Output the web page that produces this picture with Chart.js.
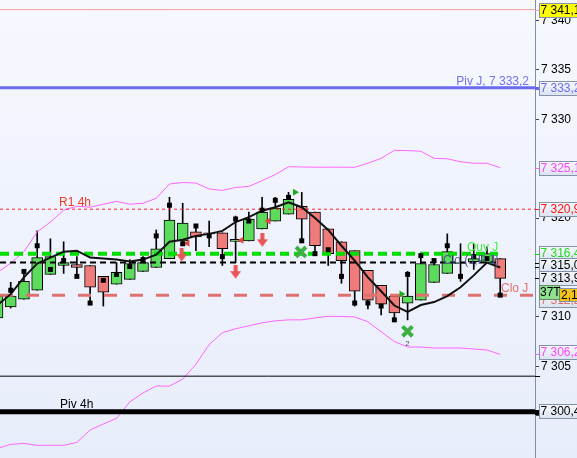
<!DOCTYPE html>
<html>
<head>
<meta charset="utf-8">
<script src="https://cdn.jsdelivr.net/npm/chart.js@4.4.1/dist/chart.umd.min.js"></script>
<style>
  html, body { margin: 0; padding: 0; background: #f3f6fd; }
  canvas { display: block; }
</style>
</head>
<body>
<canvas id="chart" width="577" height="458"></canvas>
<script>
// --- candle data (index = bar number) ---
const opens  = [7309.9, 7311.0, 7311.8, 7312.7, 7314.3, 7315.2, 7315.3, 7315.2, 7314.1, 7313.3,
                7313.8, 7314.6, 7315.0, 7315.9, 7317.7, 7318.6, 7318.5, 7318.5, 7317.65, 7317.7,
                7318.9, 7319.7, 7320.4, 7321.2, 7320.6, 7318.9, 7317.6, 7316.7, 7314.7, 7313.2,
                7312.1, 7311.4, 7311.7, 7313.5, 7314.4, 7315.4, 7315.6, 7315.5, 7315.9];
const closes = [7312.1, 7312.1, 7313.6, 7316.0, 7316.1, 7315.5, 7315.0, 7313.0, 7312.5, 7314.5,
                7315.4, 7315.5, 7316.9, 7319.8, 7319.5, 7318.1, 7318.4, 7316.9, 7317.85, 7319.9,
                7320.6, 7321.0, 7321.9, 7319.9, 7317.2, 7316.4, 7315.7, 7312.6, 7311.7, 7311.3,
                7310.4, 7312.1, 7315.4, 7315.3, 7316.6, 7315.5, 7315.9, 7316.4, 7313.9];
const highs  = [7312.6, 7313.5, 7314.6, 7318.7, 7317.9, 7317.6, 7316.1, 7315.2, 7314.1, 7315.5,
                7315.8, 7316.1, 7318.8, 7322.1, 7321.5, 7319.2, 7319.7, 7318.5, 7320.2, 7320.6,
                7322.1, 7322.1, 7322.6, 7322.6, 7320.6, 7318.9, 7317.6, 7316.7, 7314.7, 7313.2,
                7312.1, 7314.6, 7316.2, 7315.8, 7318.4, 7317.4, 7317.4, 7317.1, 7315.9];
const lows   = [7309.4, 7310.9, 7311.8, 7312.7, 7314.3, 7314.4, 7314.1, 7311.4, 7311.1, 7313.3,
                7313.8, 7314.6, 7315.0, 7315.9, 7317.4, 7316.7, 7317.1, 7315.2, 7315.5, 7317.7,
                7318.9, 7319.7, 7320.4, 7317.5, 7316.4, 7315.2, 7313.4, 7311.1, 7310.8, 7310.2,
                7309.7, 7309.7, 7311.7, 7313.5, 7314.4, 7313.6, 7314.8, 7315.5, 7312.2];
const squares = [null, 7312.7, 7314.6, 7317.2, 7314.8, 7315.7, 7314.1, 7311.4, 7313.7, 7314.3,
                7315.1, 7315.8, 7318.2, 7321.3, 7317.4, 7319.2, 7318.2, 7316.1, 7319.9, 7319.7,
                7320.8, 7321.8, 7322.1, 7317.7, 7316.4, 7316.8, 7314.1, 7311.4, 7311.4, 7311.1,
                7309.7, 7314.3, 7316.2, 7315.7, 7317.2, 7314.1, 7316.1, 7315.9, 7312.2];

// moving average and bollinger bands
const movAvg = [7311.2, 7312.3, 7314.0, 7315.4, 7316.0, 7316.6, 7316.7, 7316.0, 7315.9, 7315.8,
                7315.6, 7315.8, 7316.3, 7317.6, 7317.8, 7318.2, 7318.4, 7318.7, 7319.6, 7320.1,
                7320.75, 7321.1, 7321.6, 7321.1, 7320.0, 7318.8, 7317.2, 7315.7, 7314.0, 7312.6,
                7311.15, 7310.5, 7311.2, 7311.5, 7312.1, 7313.0, 7314.2, 7315.5, 7315.0];
const bbUpper = [7314.5, 7315.45, 7316.6, 7318.6, 7319.6, 7320.8, 7321.2, 7321.1, 7321.4, 7321.7,
                7321.4, 7321.5, 7322.0, 7323.45, 7323.6, 7323.55, 7322.95, 7322.8, 7323.1, 7323.2,
                7323.8, 7324.4, 7325.2, 7325.17, 7325.15, 7325.15, 7325.15, 7325.14, 7325.55, 7326.05,
                7326.86, 7326.83, 7326.76, 7326.05, 7326.0, 7325.7, 7325.55, 7325.55, 7325.1];
const bbLower = [7296.7, 7297.1, 7297.2, 7297.0, 7297.0, 7297.0, 7297.3, 7298.55, 7299.16, 7299.74,
                7301.4, 7302.3, 7303.0, 7303.0, 7303.7, 7305.2, 7307.2, 7308.4, 7308.8, 7309.1,
                7309.4, 7309.6, 7309.7, 7309.7, 7309.9, 7310.06, 7310.04, 7310.0, 7309.5, 7308.5,
                7307.5, 7306.95, 7306.95, 7306.85, 7306.85, 7306.85, 7306.75, 7306.65, 7306.2];

// signal markers (x = bar index)
const sellArrows = [{ x: 13.92, y: 7316.26 }, { x: 18.0, y: 7314.53 }, { x: 20.02, y: 7317.75 }];
const leftTris   = [{ x: 14.36, y: 7317.45 }, { x: 18.44, y: 7317.76 }, { x: 20.48, y: 7319.7 }];
const rightTris  = [{ x: 22.49, y: 7322.61 }, { x: 30.54, y: 7312.32 }];
const crosses    = [{ x: 22.94, y: 7316.57 }, { x: 30.99, y: 7308.54 }];

// horizontal levels
const lvlTop = 7341.1, pivJ = 7333.2, r1h4 = 7320.9, ouvJ = 7316.4, cloJP = 7315.5,
      cloJ = 7312.2, s4h = 7304.0, piv4h = 7300.4;

// price labels on the axis
const mavLast = 7315.0, lastClose = 7313.9, bbUpLast = 7325.1, bbLowLast = 7306.2;

const X_MIN = 0.19, X_MAX = 40.63;
const Y_MIN = 7295.72, Y_MAX = 7342.07;
const FONT = '"Liberation Sans", Arial, sans-serif';

const idx = opens.map((_, i) => i);
const fmt = v => {
  const s = v.toFixed(1).replace('.', ',');
  return s.slice(0, 1) + ' ' + s.slice(1);
};
const fmtTick = v => Math.floor(v / 1000) + ' ' + String(Math.round(v % 1000)).padStart(3, '0');

function makeArrow() {
  const c = document.createElement('canvas');
  c.width = 11; c.height = 14;
  const g = c.getContext('2d');
  g.fillStyle = '#e65656';
  g.beginPath();
  g.moveTo(3.5, 0); g.lineTo(7.5, 0); g.lineTo(7.5, 6); g.lineTo(11, 6);
  g.lineTo(5.5, 13.5); g.lineTo(0, 6); g.lineTo(3.5, 6);
  g.closePath();
  g.fill();
  return c;
}

function level(v, color, width, dash, x1) {
  return {
    type: 'line',
    data: [{ x: X_MIN, y: v }, { x: x1 === undefined ? X_MAX : x1, y: v }],
    borderColor: color, borderWidth: width, borderDash: dash || [],
    pointRadius: 0, order: 2,
  };
}

const overlay = {
  id: 'overlay',
  beforeDraw(chart) {
    const { ctx, width, height } = chart;
    const g = ctx.createLinearGradient(0, 0, 0, height);
    g.addColorStop(0, '#f6f8fe');
    g.addColorStop(1, '#e8edfb');
    ctx.save();
    ctx.fillStyle = g;
    ctx.fillRect(0, 0, width, height);
    ctx.restore();
  },
  afterDraw(chart) {
    const { ctx, chartArea: a, scales: { x, y } } = chart;
    ctx.save();

    // level tick marks on the axis
    const marks = [[lvlTop, '#f4a0a0', 1], [pivJ, '#6a6af0', 3], [bbUpLast, '#ff66ff', 1],
                   [r1h4, '#ff2020', 1], [ouvJ, '#00dd00', 1], [cloJP, '#000', 1],
                   [mavLast, '#000', 1], [lastClose, '#000', 1], [s4h, '#000', 1],
                   [piv4h, '#000', 5], [bbLowLast, '#ff66ff', 1]];
    marks.forEach(([v, c, w]) => {
      const py = Math.round(y.getPixelForValue(v)) + (w % 2 ? 0.5 : 0);
      ctx.strokeStyle = c; ctx.lineWidth = w;
      ctx.beginPath(); ctx.moveTo(a.right, py); ctx.lineTo(a.right + 5, py); ctx.stroke();
    });

    ctx.font = '12px ' + FONT;
    ctx.textBaseline = 'middle';

    function box(py, text, color, bg) {
      const bx = a.right + 4.5, bw = 45, bh = 14;
      const top = Math.round(py - bh / 2) + 0.5;
      if (bg) {
        ctx.fillStyle = bg;
      } else {
        const g = ctx.createLinearGradient(0, top, 0, top + bh);
        g.addColorStop(0, '#f7f9fc'); g.addColorStop(1, '#dbe3f0');
        ctx.fillStyle = g;
      }
      ctx.fillRect(bx, top, bw, bh);
      ctx.strokeStyle = '#8493aa'; ctx.lineWidth = 1;
      ctx.strokeRect(bx, top, bw, bh);
      ctx.fillStyle = color;
      ctx.textAlign = 'left';
      ctx.fillText(text, bx + 1, top + bh / 2 + 0.5);
    }

    box(y.getPixelForValue(lvlTop), fmt(lvlTop), '#000', '#ffff00');
    box(y.getPixelForValue(pivJ), fmt(pivJ), '#6a6af0');
    box(y.getPixelForValue(bbUpLast), fmt(bbUpLast), '#ff44ff');
    box(y.getPixelForValue(r1h4), fmt(r1h4), '#ff1010');
    box(y.getPixelForValue(ouvJ) - 1, fmt(ouvJ), '#22dd22');
    box(y.getPixelForValue(cloJ) + 5, fmt(cloJ), '#e07070');
    box(y.getPixelForValue(mavLast) - 2, fmt(mavLast), '#000');
    box(y.getPixelForValue(lastClose), fmt(lastClose), '#000');
    box(y.getPixelForValue(bbLowLast) - 2, fmt(bbLowLast), '#ff44ff');
    box(y.getPixelForValue(piv4h) - 1, fmt(piv4h), '#000');

    // timer + spread tags
    const ty = Math.round(y.getPixelForValue(cloJ)) - 1.5;
    ctx.fillStyle = '#f5c21a';
    ctx.fillRect(a.right + 24.5, ty - 5, 20, 13);
    ctx.strokeStyle = '#8493aa';
    ctx.strokeRect(a.right + 24.5, ty - 5, 20, 13);
    ctx.fillStyle = '#000';
    ctx.fillText('2,1', a.right + 26, ty + 2);
    ctx.fillStyle = '#8ee08e';
    ctx.fillRect(a.right + 4.5, ty - 8, 20, 14);
    ctx.strokeStyle = '#6a8a6a';
    ctx.strokeRect(a.right + 4.5, ty - 8, 20, 14);
    ctx.fillStyle = '#000';
    ctx.fillText('37T', a.right + 5, ty - 0.5);

    // labels inside the plot
    ctx.textBaseline = 'alphabetic';
    ctx.textAlign = 'left';
    ctx.fillStyle = '#f03a2a';
    ctx.fillText('R1 4h', 59, y.getPixelForValue(r1h4) - 3);
    ctx.fillStyle = '#000';
    ctx.fillText('Piv 4h', 60, y.getPixelForValue(piv4h) - 4);
    ctx.fillStyle = '#44ee44';
    ctx.fillText('Ouv J', 467, y.getPixelForValue(ouvJ) - 3);
    ctx.fillStyle = '#4d5b8c';
    ctx.fillText('Clo (J,P J)', 443, y.getPixelForValue(cloJP) + 1);
    ctx.fillStyle = '#e07070';
    ctx.fillText('Clo J', 501, y.getPixelForValue(cloJ) - 3);
    ctx.textAlign = 'right';
    ctx.fillStyle = '#7272f0';
    ctx.fillText('Piv J, 7 333,2', a.right - 6, y.getPixelForValue(pivJ) - 3);
    ctx.textAlign = 'center';
    ctx.font = '8px ' + FONT;
    ctx.fillStyle = '#555';
    ctx.fillText('2', x.getPixelForValue(crosses[1].x), y.getPixelForValue(crosses[1].y) + 15);

    ctx.restore();
  },
};

new Chart(document.getElementById('chart'), {
  type: 'bar',
  data: {
    datasets: [
      {
        type: 'line', data: squares.map((v, i) => ({ x: i, y: v })),
        showLine: false, pointStyle: 'rect', pointRadius: 3.5,
        pointBackgroundColor: '#000', pointBorderWidth: 0, order: 0,
      },
      {
        type: 'line', data: sellArrows, showLine: false,
        pointStyle: makeArrow(), order: 0,
      },
      {
        type: 'line', data: leftTris, showLine: false, pointStyle: 'triangle',
        pointRotation: -90, pointRadius: 4, pointBackgroundColor: '#e04848',
        pointBorderWidth: 0, order: 0,
      },
      {
        type: 'line', data: rightTris, showLine: false, pointStyle: 'triangle',
        pointRotation: 90, pointRadius: 4, pointBackgroundColor: '#22aa22',
        pointBorderWidth: 0, order: 0,
      },
      {
        type: 'line', data: crosses, showLine: false, pointStyle: 'crossRot',
        pointRadius: 7, pointBorderColor: '#3cb043', pointBorderWidth: 4, order: 0,
      },
      {
        type: 'line', data: movAvg.map((v, i) => ({ x: i, y: v })),
        borderColor: '#111', borderWidth: 2, pointRadius: 0, order: 1,
      },
      level(lvlTop, '#f4a0a0', 1),
      level(pivJ, '#6a6af0', 3),
      level(r1h4, '#ff2020', 1, [3, 3]),
      level(ouvJ, '#00dd00', 4, [9, 5], 37.83),
      level(cloJP, '#000', 2, [6, 4], 37.83),
      level(cloJ, '#e07070', 3, [13, 13]),
      level(s4h, '#000', 1),
      level(piv4h, '#000', 5),
      {
        type: 'line', data: bbUpper.map((v, i) => ({ x: i, y: v })),
        borderColor: '#ff66ff', borderWidth: 1, pointRadius: 0, order: 3,
      },
      {
        type: 'line', data: bbLower.map((v, i) => ({ x: i, y: v })),
        borderColor: '#ff66ff', borderWidth: 1, pointRadius: 0, order: 3,
      },
      {
        data: idx.map(i => ({ x: i, y: [opens[i], closes[i]] })),
        backgroundColor: idx.map(i => closes[i] >= opens[i] ? '#5cdb5c' : '#ef7b7b'),
        borderColor: '#000', borderWidth: 1, borderSkipped: false,
        barThickness: 11, grouped: false, order: 4,
      },
      {
        data: idx.map(i => ({ x: i, y: [lows[i], highs[i]] })),
        backgroundColor: '#000', borderWidth: 0,
        barThickness: 1, grouped: false, order: 5,
      },
    ],
  },
  options: {
    responsive: false,
    animation: false,
    events: [],
    layout: { padding: 0, autoPadding: false },
    plugins: { legend: { display: false }, tooltip: { enabled: false } },
    scales: {
      x: { type: 'linear', min: X_MIN, max: X_MAX, display: false, offset: false },
      y: {
        type: 'linear', position: 'right', min: Y_MIN, max: Y_MAX,
        afterFit(s) { s.width = 42; s.paddingTop = 0; s.paddingBottom = 0; },
        border: { color: '#7f8fa8' },
        grid: { drawOnChartArea: false, tickLength: 4, color: '#444' },
        ticks: {
          stepSize: 5, includeBounds: false, padding: 2, color: '#000',
          font: { size: 12, family: FONT },
          callback: v => fmtTick(v),
        },
      },
    },
  },
  plugins: [overlay],
});
</script>
</body>
</html>
